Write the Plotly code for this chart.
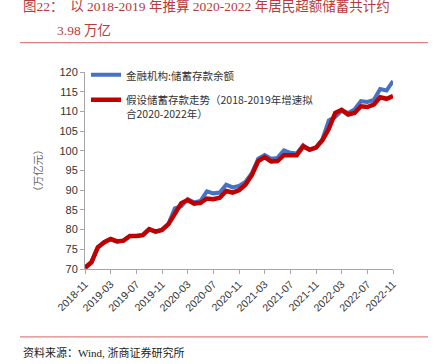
import plotly.graph_objects as go

months = []
y, m = 2018, 11
for _ in range(49):
    months.append(f"{y}-{m:02d}")
    m += 1
    if m > 12:
        m = 1
        y += 1

tick_labels = ["2018-11", "2019-03", "2019-07", "2019-11", "2020-03", "2020-07",
               "2020-11", "2021-03", "2021-07", "2021-11", "2022-03", "2022-07", "2022-11"]

actual = [70.3, 71.7, 75.5, 76.8, 77.6, 77.0, 77.2, 78.4, 78.4, 78.6, 80.1, 79.5, 79.9,
          81.4, 85.4, 85.9, 87.7, 86.9, 87.3, 89.7, 89.2, 89.4, 91.4, 90.7, 91.1,
          92.1, 94.3, 98.0, 98.9, 98.0, 98.2, 100.1, 99.5, 99.3, 101.4, 100.2, 100.8,
          102.9, 107.7, 108.6, 110.2, 109.6, 110.5, 112.6, 112.4, 112.9, 115.7, 115.3, 117.7]

assumed = [70.3, 71.7, 75.5, 76.8, 77.6, 77.0, 77.2, 78.4, 78.4, 78.6, 80.1, 79.5, 79.9,
           81.4, 84.0, 86.7, 87.5, 86.6, 86.8, 87.9, 87.7, 88.1, 89.8, 89.4, 90.0,
           91.4, 93.8, 97.4, 98.4, 97.3, 97.4, 98.9, 98.9, 98.9, 101.1, 100.3, 100.8,
           102.7, 105.6, 109.6, 110.4, 109.2, 109.6, 111.3, 111.1, 111.7, 113.6, 113.2, 113.9]

name_actual = "金融机构:储蓄存款余额"
name_assumed = "假设储蓄存款走势（2018-2019年增速拟<br>合2020-2022年）"

fig = go.Figure()
fig.add_trace(go.Scatter(x=months, y=actual, mode="lines", name=name_actual,
                         line=dict(color="#4472C4", width=4), legendgroup="a"))
fig.add_trace(go.Scatter(x=months, y=assumed, mode="lines", name=name_assumed,
                         line=dict(color="#C00000", width=4.5), legendgroup="b"))

W, H = 435, 364
L, R, T, B = 85, 42, 71.5, 95
pw, ph = W - L - R, H - T - B

def px(xp):
    return (xp - L) / pw

def py(yp):
    return (H - B - yp) / ph

title_color = "#B83A3A"
serif = "Liberation Serif, Noto Sans CJK SC, serif"

annotations = [
    dict(text="图22：  以 2018-2019 年推算 2020-2022 年居民超额储蓄共计约",
         x=px(21), y=py(6), xref="paper", yref="paper", xanchor="left", yanchor="middle",
         showarrow=False, font=dict(size=13.5, color=title_color, family=serif)),
    dict(text="3.98 万亿",
         x=px(55), y=py(30), xref="paper", yref="paper", xanchor="left", yanchor="middle",
         showarrow=False, font=dict(size=13.5, color=title_color, family=serif)),
    dict(text="资料来源：Wind, 浙商证券研究所",
         x=px(21), y=py(353), xref="paper", yref="paper", xanchor="left", yanchor="middle",
         showarrow=False, font=dict(size=11, color="#222222", family=serif)),
]

shapes = [
    dict(type="line", xref="paper", yref="paper", x0=px(20), x1=px(428), y0=py(42), y1=py(42),
         line=dict(color="#E08080", width=1.2)),
    dict(type="line", xref="paper", yref="paper", x0=px(20), x1=px(428), y0=py(337), y1=py(337),
         line=dict(color="#E08080", width=1.2)),
]

fig.update_layout(
    width=W, height=H,
    margin=dict(l=L, r=R, t=T, b=B, pad=0),
    paper_bgcolor="white", plot_bgcolor="white",
    showlegend=True,
    legend=dict(x=px(86), y=py(61), xanchor="left", yanchor="top",
                font=dict(size=10.5, color="#333333", family="Noto Sans CJK SC"),
                bgcolor="rgba(0,0,0,0)", tracegroupgap=6, valign="top",
                itemwidth=30),
    annotations=annotations,
    shapes=shapes,
    xaxis=dict(type="category", range=[0, 48], tickmode="array", tickvals=tick_labels,
               ticktext=tick_labels, tickangle=-45, ticks="outside", ticklen=4,
               tickcolor="#A6A6A6", showline=True, linecolor="#A6A6A6", linewidth=1,
               showgrid=False, zeroline=False,
               tickfont=dict(size=10.5, color="#333333", family="Liberation Sans")),
    yaxis=dict(range=[70, 120], dtick=5, ticks="outside", ticklen=4, tickcolor="#A6A6A6",
               showline=True, linecolor="#A6A6A6", linewidth=1, showgrid=False, zeroline=False,
               tickfont=dict(size=11, color="#333333", family="Liberation Sans"),
               title=dict(text="（万亿元）", standoff=14,
                          font=dict(size=10.5, color="#666666", family="Noto Sans CJK SC"))),
)

fig.write_html("out.html", config={"displayModeBar": False},
               post_script="document.body.style.margin='0';document.body.style.overflow='hidden';")
